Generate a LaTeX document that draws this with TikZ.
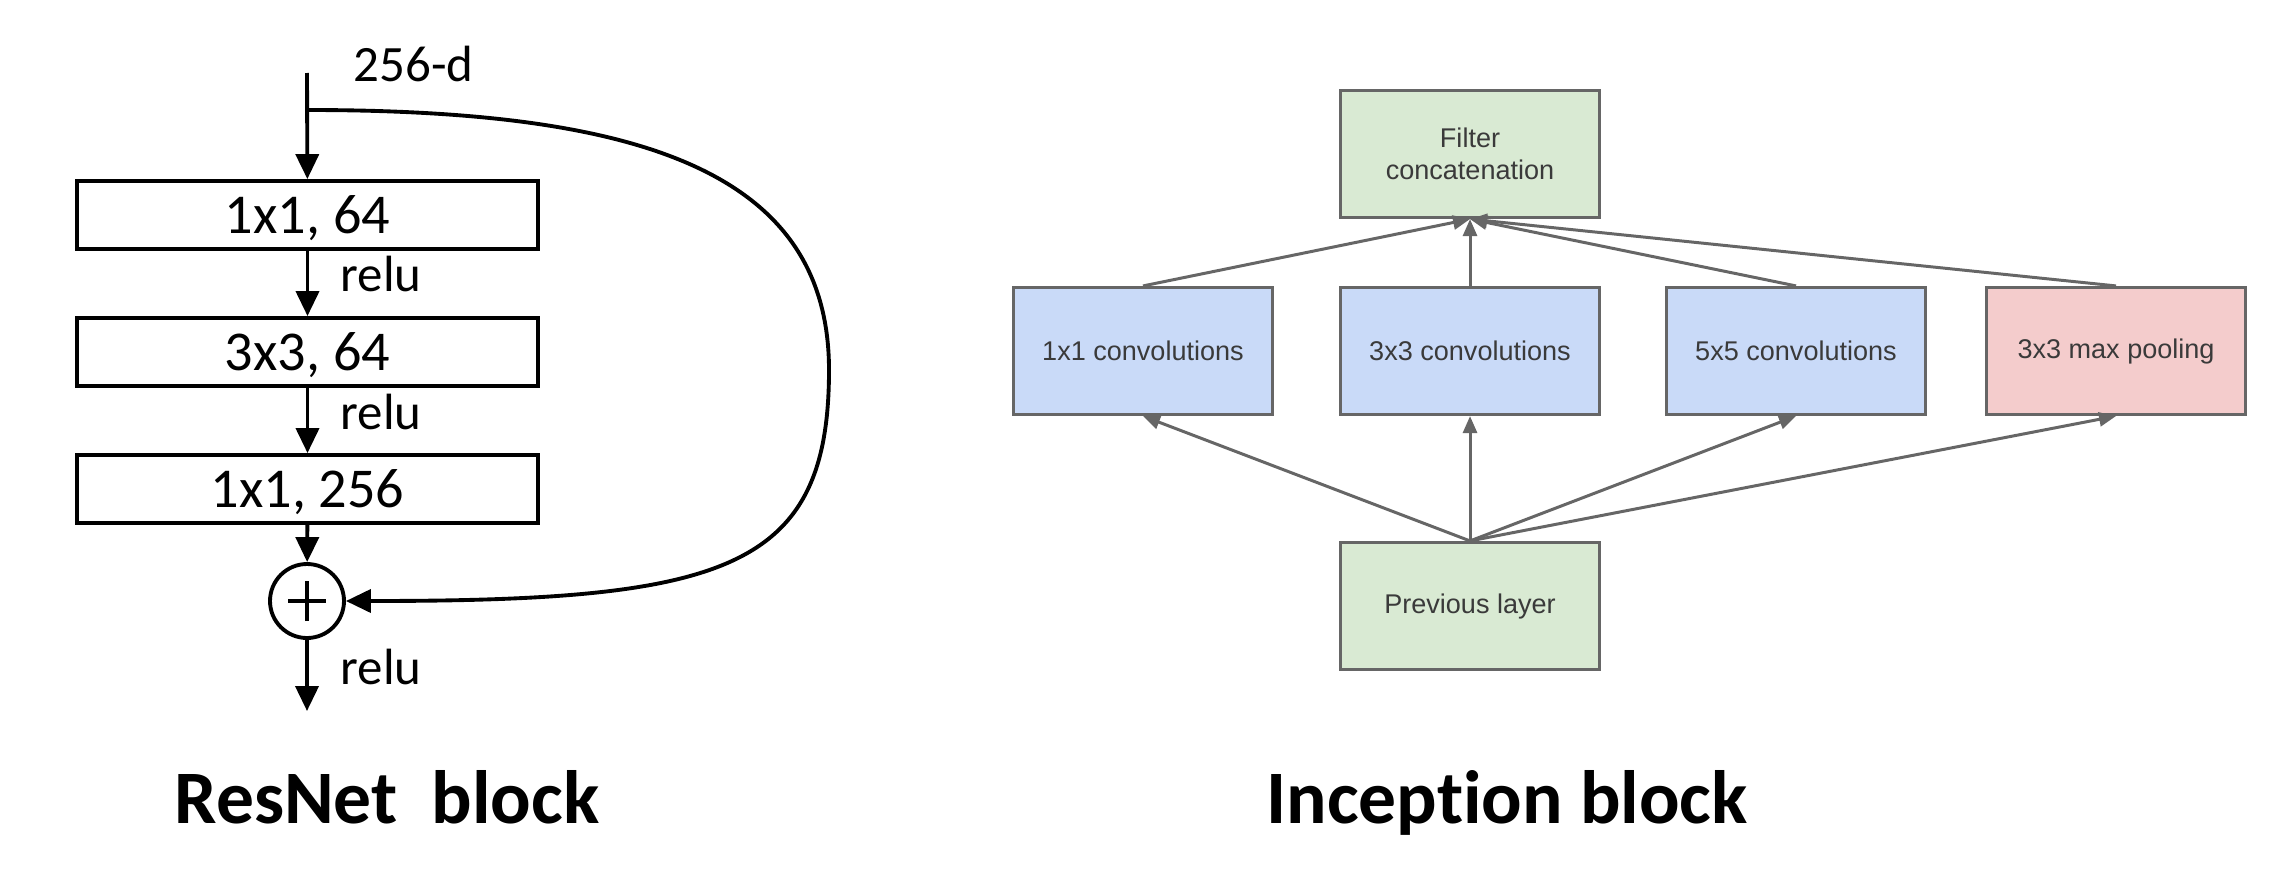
\documentclass[tikz,border=0pt]{standalone}
\usepackage{fontspec}
\setmainfont{Carlito}[Ligatures=NoCommon]
\newfontfamily\arialfont{Liberation Sans}
\usetikzlibrary{arrows.meta,positioning}

\definecolor{convblue}{HTML}{C9DAF8}
\definecolor{layergreen}{HTML}{D9EAD3}
\definecolor{poolred}{HTML}{F4CCCC}
\definecolor{edgegray}{HTML}{666666}
\definecolor{textgray}{HTML}{3A3A3A}

\tikzset{
  resbox/.style={draw, line width=1.1pt, fill=white, minimum width=4.61cm, minimum height=0.68cm,
    inner sep=0pt, text depth=0pt, font=\fontsize{16}{19}\selectfont},
  lbl/.style={anchor=base west, inner sep=0pt, font=\fontsize{14.5}{17}\selectfont},
  resarrow/.style={-{Triangle[length=2.5mm,width=2.3mm]}, line width=1.1pt},
  sumnode/.style={circle, draw, line width=1.1pt, minimum size=0.74cm, inner sep=0pt,
    path picture={\draw[line width=1.1pt] (path picture bounding box.center) +(-1.9mm,0) -- +(1.9mm,0)
      (path picture bounding box.center) +(0,-2mm) -- +(0,2mm);}},
  incbox/.style={draw=edgegray, line width=0.9pt, minimum width=2.59cm, minimum height=1.27cm,
    inner sep=0pt, align=center, text=textgray, font=\arialfont\fontsize{7.7}{9.1}\selectfont},
  incarrow/.style={-{Triangle[length=1.7mm,width=1.4mm]}, draw=edgegray, line width=0.85pt},
  blocktitle/.style={anchor=base, inner sep=0pt, font=\bfseries\fontsize{21.5}{25}\selectfont}
}

\begin{document}
\begin{tikzpicture}[x=0.1mm,y=-0.1mm]
\useasboundingbox (0,0) rectangle (2288,871);

% ResNet block
\coordinate (input) at (307,73);
\coordinate (split) at (307,110);
\coordinate (turn) at (829,370);
\coordinate (output) at (307,711);
\node[resbox] (res1) at (307.5,215) {1x1, 64};
\node[resbox] (res2) at (307.5,352) {3x3, 64};
\node[resbox] (res3) at (307.5,489) {1x1, 256};
\node[sumnode] (plus) at (307,601) {};
\node[lbl] (dim) at (353,81) {256-d};
\node[lbl] (relu1) at (340,291) {relu};
\node[lbl] (relu2) at (340,429) {relu};
\node[lbl] (relu3) at (340,684) {relu};

\path[draw,resarrow] (input) -- (res1);
\path[draw,resarrow] (res1) -- (res2);
\path[draw,resarrow] (res2) -- (res3);
\path[draw,resarrow] (res3) -- (plus);
\path[draw,resarrow] (plus) -- (output);
\path[draw,resarrow] (split) .. controls +(330,0) and +(0,-200) .. (turn)
  .. controls +(0,200) and +(380,0) .. (plus.east);

% Inception block
\node[incbox, fill=layergreen] (concat) at (1470,154) {Filter\\concatenation};
\node[incbox, fill=convblue] (conv1) at (1143,351) {1x1 convolutions};
\node[incbox, fill=convblue] (conv3) at (1470,351) {3x3 convolutions};
\node[incbox, fill=convblue] (conv5) at (1796,351) {5x5 convolutions};
\node[incbox, fill=poolred] (maxpool) at (2116,351) {3x3 max pooling};
\node[incbox, fill=layergreen] (prev) at (1470,606) {Previous layer};

\path[incarrow] (prev.north) -- (conv1.south);
\path[incarrow] (prev.north) -- (conv3.south);
\path[incarrow] (prev.north) -- (conv5.south);
\path[incarrow] (prev.north) -- (maxpool.south);
\path[incarrow] (conv1.north) -- (concat.south);
\path[incarrow] (conv3.north) -- (concat.south);
\path[incarrow] (conv5.north) -- (concat.south);
\path[incarrow] (maxpool.north) -- (concat.south);

% titles
\node[blocktitle] (restitle) at (387,823) {ResNet~~block};
\node[blocktitle] (inctitle) at (1507,823) {Inception block};
\end{tikzpicture}
\end{document}
